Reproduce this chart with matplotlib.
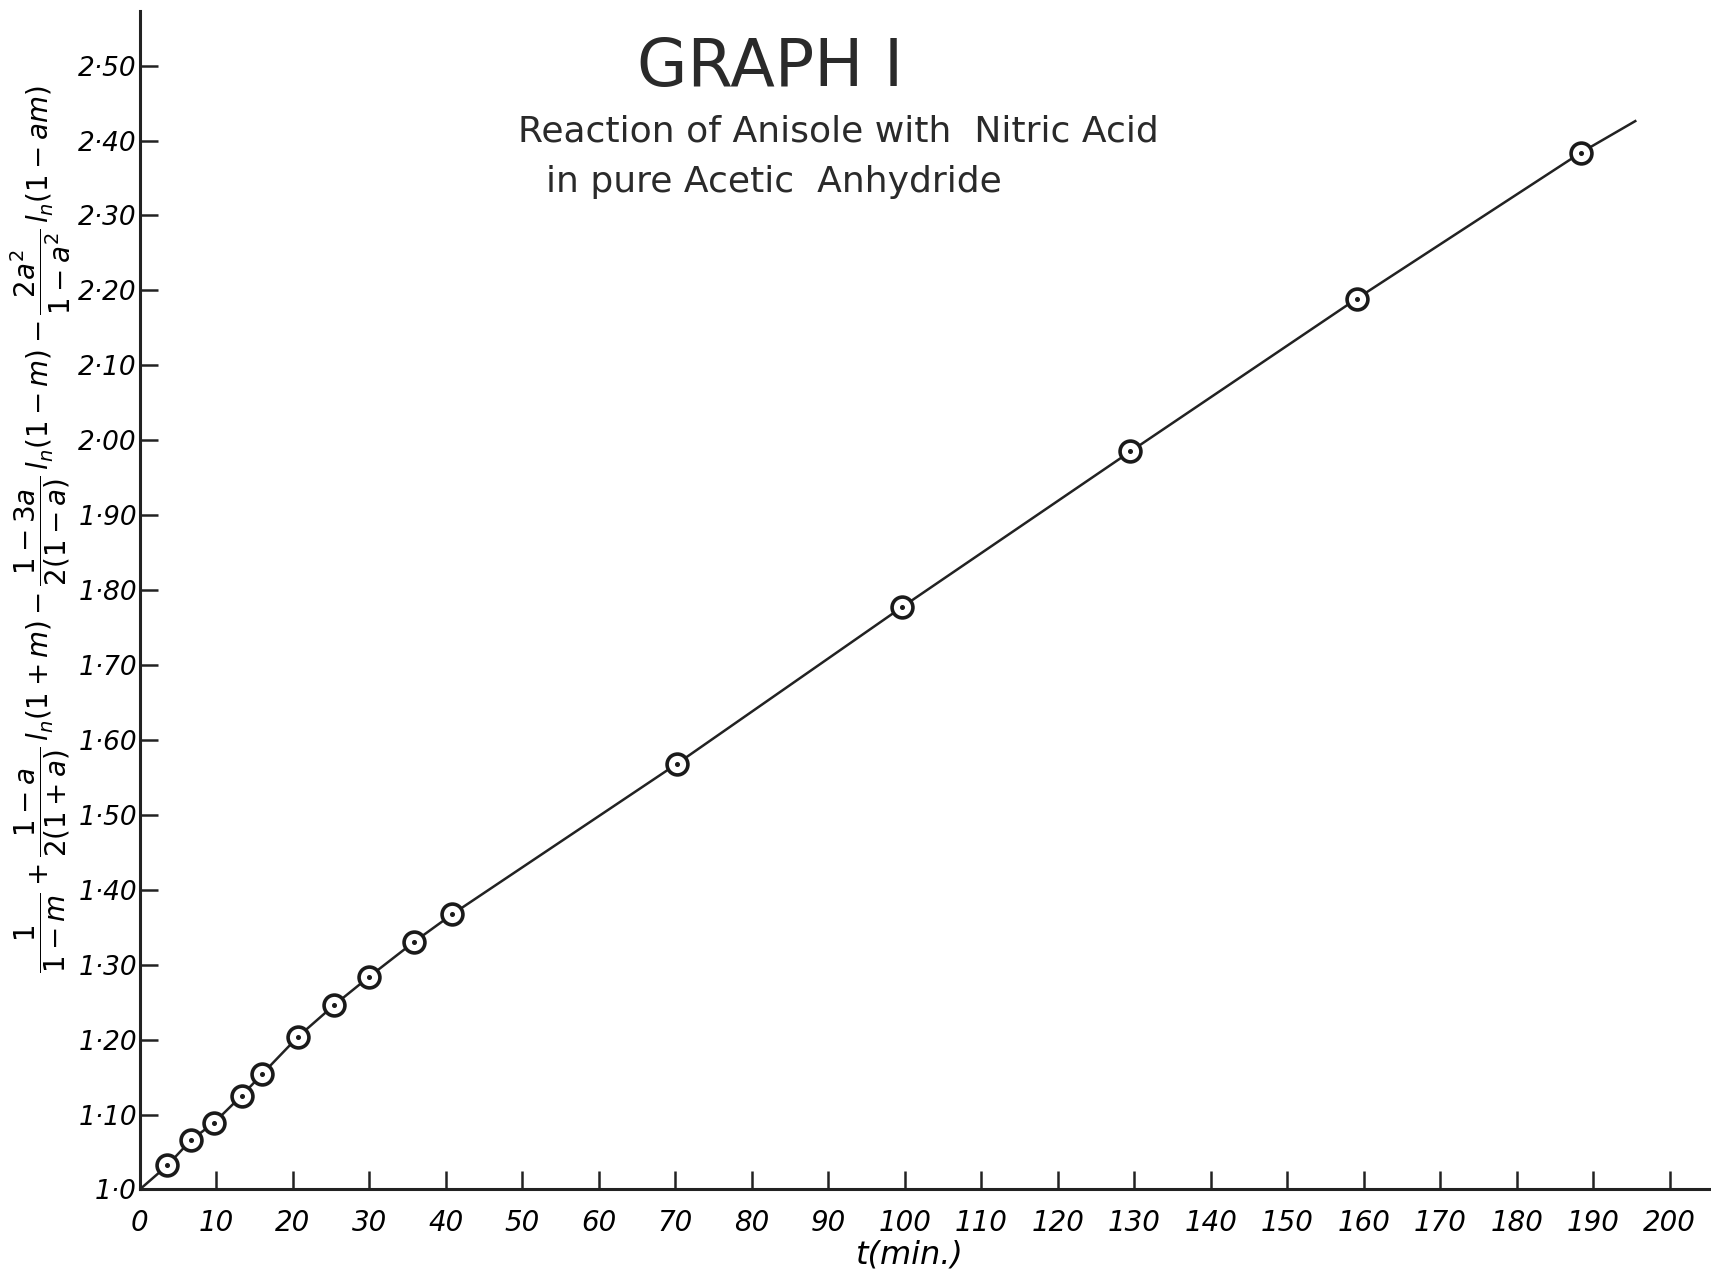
import matplotlib
matplotlib.use("Agg")
import matplotlib.pyplot as plt
import numpy as np

# Kinetic data: reaction time (min) and the integrated rate function
t_min = [3.6, 6.7, 9.7, 13.3, 16.0, 20.7, 25.4, 30.0, 35.8, 40.8,
         70.2, 99.6, 129.5, 159.1, 188.4]
f_val = [1.032, 1.066, 1.089, 1.125, 1.154, 1.204, 1.246, 1.284, 1.330, 1.367,
         1.568, 1.777, 1.985, 2.189, 2.384]

# Drawn line: starts at the origin and runs past the last point
line_start = (0.0, 1.0)
line_end = (195.5, 2.426)

x_ticks = list(range(0, 201, 10))
x_labels = [str(v) for v in x_ticks]
y_ticks = [round(1.0 + 0.1 * i, 2) for i in range(16)]
y_labels = ["1·0"] + ["%d·%02d" % (int(v), round((v - int(v)) * 100)) for v in y_ticks[1:]]

fig = plt.figure(figsize=(17.11, 12.75), dpi=100)
ax = fig.add_axes([0.0817, 0.0671, 1.0 - 0.0817, 0.9914 - 0.0671])
ax.set_xlim(0, 205.4)
ax.set_ylim(1.0, 2.573)

for s in ("top", "right"):
    ax.spines[s].set_visible(False)
for s in ("left", "bottom"):
    ax.spines[s].set_linewidth(2.2)
    ax.spines[s].set_color("#222222")

ax.set_xticks(x_ticks)
ax.set_xticklabels(x_labels, fontsize=20, style="italic", family="DejaVu Sans")
ax.set_yticks(y_ticks)
ax.set_yticklabels(y_labels, fontsize=19, style="italic", family="DejaVu Sans")
ax.tick_params(axis="both", direction="in", length=13, width=1.8, color="#222222")
ax.tick_params(axis="x", pad=14)
ax.tick_params(axis="y", pad=2)

# straight-line fit drawn through the points
lt = [line_start[0]] + t_min + [line_end[0]]
lv = [line_start[1]] + f_val + [line_end[1]]
ax.plot(lt, lv, color="#222222", lw=1.8, zorder=2)

# circled data points with a centre dot
ax.plot(t_min, f_val, "o", ms=15, mfc="white", mec="#1a1a1a", mew=2.6, zorder=3)
ax.plot(t_min, f_val, "o", ms=2.6, color="#1a1a1a", zorder=4)

fig.text(0.450, 0.947, "GRAPH I", fontsize=47, ha="center", va="center",
         family="DejaVu Sans", color="#2a2a2a")
fig.text(0.490, 0.897, "Reaction of Anisole with  Nitric Acid", fontsize=26,
         ha="center", va="center", family="DejaVu Sans", color="#2a2a2a")
fig.text(0.319, 0.857, "in pure Acetic  Anhydride", fontsize=26,
         ha="left", va="center", family="DejaVu Sans", color="#2a2a2a")

fig.text(0.532, 0.016, "t(min.)", fontsize=23, style="italic", ha="center",
         va="center", family="DejaVu Sans")

ylab = (r"$\dfrac{1}{1-m}+\dfrac{1-a}{2(1+a)}\,l_n(1+m)-\dfrac{1-3a}{2(1-a)}\,l_n(1-m)"
        r"-\dfrac{2a^2}{1-a^2}\,l_n(1-am)$")
fig.text(0.024, 0.585, ylab, fontsize=20, rotation=90, ha="center", va="center")

fig.savefig("out.png", dpi=100, facecolor="white")
